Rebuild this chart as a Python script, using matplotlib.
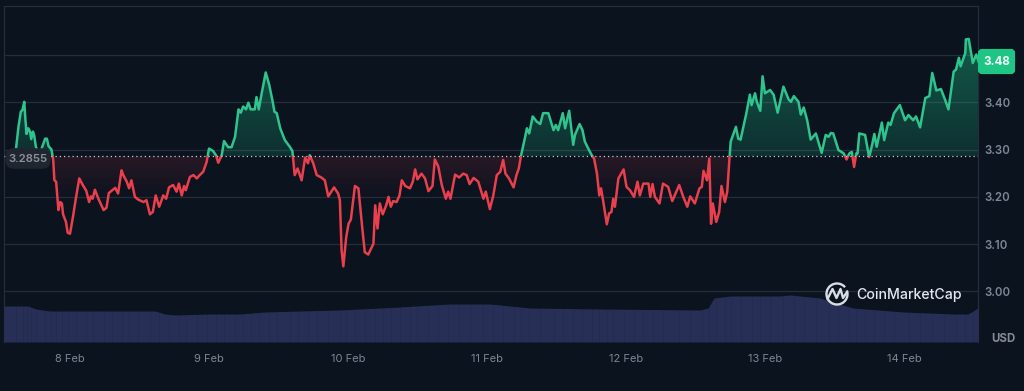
import numpy as np
import matplotlib
matplotlib.use('Agg')
import matplotlib.pyplot as plt
from matplotlib.patches import FancyBboxPatch, Rectangle, Arc
from matplotlib.path import Path

# hours since 8 Feb 00:00
hours = [-9.3,-8.9,-8.5,-8.2,-7.9,-7.7,-7.5,-7.2,-6.9,-6.7,-6.4,-6.2,-5.9,-5.3,-4.6,-4.3,-4.0,-3.7,-3.2,-2.9,
    -2.7,-2.4,-2.0,-1.7,-1.4,-1.2,-0.7,-0.4,0.0,0.5,1.0,1.6,2.2,2.8,3.3,3.6,3.9,4.3,4.9,5.8,
    6.3,6.7,7.2,7.8,8.3,8.9,9.2,9.8,10.2,10.6,11.2,11.8,12.7,13.2,13.8,14.3,14.8,15.4,16.1,16.6,
    17.1,17.8,18.4,18.8,19.3,19.7,20.0,20.7,21.3,21.9,22.4,23.0,23.6,24.0,24.7,25.2,25.6,26.2,26.6,27.3,
    27.9,28.5,29.1,29.5,29.9,30.4,30.8,31.2,31.9,32.2,32.6,33.1,33.8,34.4,35.0,35.3,35.7,36.3,37.1,38.0,
    38.4,38.8,39.3,40.0,40.6,41.1,41.4,42.0,42.6,43.4,44.0,44.6,45.6,46.3,
    46.6,46.9,47.2,47.7,48.1,48.5,49.2,49.8,50.4,50.9,51.5,52.4,52.7,53.1,53.5,54.0,54.6,55.0,55.4,55.8,
    56.4,56.9,57.3,57.9,58.7,59.2,59.6,60.0,60.7,61.3,61.9,62.6,63.0,63.6,64.2,64.9,65.3,65.7,66.5,67.2,
    67.9,68.5,69.0,69.7,70.5,71.4,71.8,72.5,73.1,73.7,74.3,74.8,75.2,75.8,76.6,77.1,77.5,77.9,78.6,78.9,
    79.3,79.9,80.6,81.2,81.7,82.6,83.5,83.9,84.3,85.1,85.5,86.2,86.9,87.2,88.0,88.5,88.9,89.5,90.1,90.5,
    91.0,91.4,91.7,92.1,92.7,93.1,93.5,93.8,94.1,94.7,95.6,96.1,96.7,97.4,98.0,98.4,99.0,99.9,100.2,100.6,
    101.0,101.8,102.4,103.3,104.0,105.2,105.9,106.6,107.1,107.9,108.7,109.1,109.4,110.0,110.4,110.7,111.0,111.6,112.1,112.5,
    113.1,113.5,113.9,114.1,115.0,115.4,115.8,116.8,117.4,117.7,118.3,118.6,119.2,119.6,120.0,120.9,121.5,122.2,123.2,124.1,
    124.5,125.0,125.8,126.2,126.7,127.3,127.9,128.8,129.8,130.5,131.0,131.4,131.8,132.7,133.6,134.1,134.6,135.0,135.4,135.8,
    136.0,136.3,137.3,138.0,138.5,138.9,139.3,140.2,140.6,141.3,141.7,142.3,143.3,144.2,144.8,145.6,146.1,146.8,147.7,148.4,
    148.9,149.6,150.4,151.0,151.7,152.6,153.0,153.5,153.8,154.6,154.7,155.2,155.9,156.5,156.9]

prices = [3.305,3.348,3.380,3.384,3.401,3.363,3.333,3.345,3.338,3.322,3.338,3.331,3.306,3.288,3.313,3.323,3.323,3.307,3.300,3.278,
    3.235,3.232,3.172,3.189,3.186,3.163,3.147,3.124,3.122,3.157,3.196,3.239,3.225,3.213,3.189,3.201,3.196,3.215,3.196,3.172,
    3.177,3.208,3.213,3.219,3.207,3.256,3.246,3.232,3.218,3.235,3.200,3.194,3.189,3.193,3.163,3.168,3.203,3.179,3.203,3.196,
    3.220,3.225,3.211,3.228,3.203,3.223,3.214,3.242,3.246,3.239,3.246,3.253,3.274,3.302,3.297,3.288,3.272,3.288,3.318,3.305,
    3.305,3.327,3.385,3.378,3.391,3.385,3.399,3.385,3.385,3.411,3.385,3.419,3.463,3.437,3.401,3.380,3.377,3.345,3.320,3.305,
    3.297,3.246,3.260,3.235,3.283,3.271,3.288,3.271,3.246,3.241,3.235,3.201,3.220,3.207,
    3.193,3.087,3.053,3.115,3.143,3.152,3.223,3.218,3.143,3.083,3.078,3.101,3.182,3.133,3.186,3.163,3.182,3.200,3.179,3.191,
    3.189,3.203,3.235,3.223,3.218,3.232,3.258,3.237,3.249,3.239,3.212,3.223,3.279,3.264,3.225,3.196,3.211,3.196,3.247,3.241,
    3.249,3.246,3.227,3.240,3.232,3.196,3.211,3.174,3.203,3.246,3.253,3.278,3.249,3.239,3.220,3.246,3.260,3.288,3.327,3.345,
    3.334,3.370,3.359,3.354,3.377,3.377,3.341,3.352,3.341,3.377,3.345,3.382,3.310,3.331,3.354,3.341,3.317,3.302,3.288,3.281,
    3.249,3.203,3.218,3.189,3.142,3.165,3.168,3.196,3.179,3.239,3.258,3.221,3.214,3.200,3.232,3.203,3.228,3.228,3.200,3.227,
    3.200,3.186,3.228,3.221,3.191,3.225,3.200,3.179,3.201,3.186,3.218,3.221,3.255,3.235,3.281,3.143,3.186,3.147,3.168,3.223,
    3.189,3.211,3.285,3.317,3.348,3.323,3.321,3.377,3.416,3.394,3.419,3.401,3.382,3.455,3.419,3.426,3.416,3.378,3.433,3.406,
    3.401,3.413,3.401,3.374,3.389,3.362,3.321,3.334,3.293,3.331,3.327,3.335,3.334,3.299,3.292,3.279,3.292,3.295,3.263,3.292,
    3.292,3.334,3.331,3.284,3.309,3.333,3.306,3.357,3.320,3.357,3.352,3.377,3.394,3.362,3.373,3.362,3.370,3.347,3.409,3.413,
    3.462,3.425,3.428,3.409,3.385,3.465,3.469,3.494,3.476,3.504,3.533,3.534,3.483,3.501,3.486]

vol_hours = [-11.4,-7.3,-5.9,-3.5,-0.9,5.2,14.7,16.4,18.1,24.2,29.4,33.7,39.7,46.6,57.0,65.6,72.5,79.4,91.5,108.8,
    110.2,111.2,114.0,122.6,124.3,129.5,135.2,143.9,152.5,155.1,156.8]
volume = [36,36,33,31,31,31,31,28,27,28,28,30,31,32,35,38,38,34,33,32,
    34,44,46,46,47,44,34,30,28,28,34]

base_price = 3.2855
last_price = 3.48
day_ticks = [0, 24, 48, 72, 96, 120, 144]
day_labels = ['8 Feb', '9 Feb', '10 Feb', '11 Feb', '12 Feb', '13 Feb', '14 Feb']
price_ticks = [3.00, 3.10, 3.20, 3.30, 3.40]
grid_lines = [3.00, 3.10, 3.20, 3.30, 3.40, 3.50]

BG = '#0b131f'
GRID = '#262d3a'
GREEN = '#2fc48d'
RED = '#ea3f4c'
TICK = '#7f8693'

plt.rcParams['font.family'] = ['Inter', 'DejaVu Sans']

fig = plt.figure(figsize=(10.24, 3.91), dpi=100, facecolor=BG)
ax = fig.add_axes([4/1024, 49/391, 974/1024, 336/391], facecolor=BG)
xlim = (-11.4, 156.8)
ylim = (2.893, 3.6036)

for g in grid_lines:
    ax.axhline(g, color=GRID, lw=0.9, zorder=1)


# gradient fill, clipped to the area between line and baseline
def gradient_fill(where, rgb, a_far, a_near, y0, y1):
    poly = ax.fill_between(hours, prices, base_price, where=where, interpolate=True,
                           color='none', lw=0)
    img = np.zeros((128, 1, 4))
    img[:, :, :3] = matplotlib.colors.to_rgb(rgb)
    img[:, :, 3] = np.linspace(a_far, a_near, 128).reshape(-1, 1)
    im = ax.imshow(img, extent=[xlim[0], xlim[1], y0, y1], origin='upper', aspect='auto', zorder=2)
    im.set_clip_path(Path.make_compound_path(*poly.get_paths()), transform=ax.transData)


p = np.array(prices)
gradient_fill(p >= base_price, '#1fc78b', 0.42, 0.16, base_price, 3.55)
gradient_fill(p <= base_price, '#ea3f4c', 0.13, 0.0, 3.19, base_price)

# one line, coloured by side of the baseline
up, = ax.plot(hours, prices, color=GREEN, lw=1.8, zorder=4, solid_joinstyle='round')
up.set_clip_path(Rectangle((xlim[0], base_price), xlim[1]-xlim[0], 1, transform=ax.transData))
down, = ax.plot(hours, prices, color=RED, lw=1.8, zorder=4, solid_joinstyle='round')
down.set_clip_path(Rectangle((xlim[0], 2.5), xlim[1]-xlim[0], base_price-2.5, transform=ax.transData))

ax.axhline(base_price, color='#c8ccd4', lw=0.9, ls=(0, (1, 2.4)), zorder=5)

# volume band along the bottom
ax2 = ax.twinx()
ax2.fill_between(vol_hours, volume, 0, color='#29315a', lw=0, alpha=0.95)
stripe_top = np.interp(hours[::3], vol_hours, volume)
ax2.vlines(hours[::3], 0, stripe_top, color=BG, lw=0.7, alpha=0.14)
ax2.set_ylim(0, 336)
ax2.set_yticks([])
ax2.patch.set_visible(False)
for s in ax2.spines.values():
    s.set_visible(False)

ax.set_xlim(xlim)
ax.set_ylim(ylim)
ax.yaxis.tick_right()
ax.set_xticks(day_ticks)
ax.set_xticklabels(day_labels)
ax.set_yticks(price_ticks)
ax.set_yticklabels(['%.2f' % v for v in price_ticks])
ax.tick_params(axis='x', length=0, pad=9, labelsize=8, labelcolor=TICK)
ax.tick_params(axis='y', length=0, pad=4.5, labelsize=8.3, labelcolor=TICK)
for lbl in ax.get_yticklabels():
    lbl.set_fontweight('semibold')
ax.spines['bottom'].set_visible(False)
for s in ['left', 'right', 'top']:
    ax.spines[s].set_color(GRID)
    ax.spines[s].set_linewidth(0.9)

# overlay in pixel coordinates for the labels and logo
top = fig.add_axes([0, 0, 1, 1], facecolor='none')
top.set_xlim(0, 1024)
top.set_ylim(391, 0)
top.axis('off')

top.add_patch(FancyBboxPatch((8, 151), 40, 15, boxstyle='round,pad=0,rounding_size=6',
                             fc='#20262f', ec='#20262f', lw=4))
top.text(28, 158.5, '3.2855', color='#8b909b', fontsize=8.2, fontweight='semibold', ha='center', va='center')

top.add_patch(FancyBboxPatch((980, 51), 33, 21, boxstyle='round,pad=0,rounding_size=2',
                             fc='#1fc585', ec='#1fc585', lw=3))
top.text(996.5, 62, '3.48', color='#f2fff9', fontsize=8.3, fontweight='bold', ha='center', va='center')

top.text(1003, 338.5, 'USD', color='#858b97', fontsize=8.3, fontweight='bold', ha='center', va='center')

# logo
LOGO = '#d9dde6'
top.add_patch(Arc((837, 294), 21, 21, theta1=-20, theta2=320, color=LOGO, lw=1.7))
top.plot([827.5, 832.5, 836.5, 840.5, 843, 847], [299, 289, 298, 289, 298, 292], color=LOGO, lw=1.7,
         solid_joinstyle='round', solid_capstyle='round')
top.text(856, 295, 'CoinMarketCap', color='#e4e7ee', fontsize=10.2, fontweight='medium', ha='left', va='center')

fig.savefig('out.png', dpi=100, facecolor=BG)
